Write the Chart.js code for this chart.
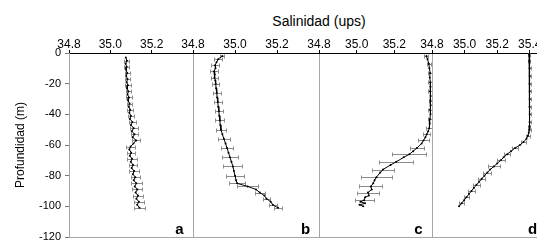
<!DOCTYPE html>
<html>
<head>
<meta charset="utf-8">
<script src="https://cdn.jsdelivr.net/npm/chart.js@4.4.0/dist/chart.umd.min.js"></script>
<style>
    html, body { margin: 0; padding: 0; background: #fff; overflow: hidden; width: 537px; height: 242px; }
    canvas { position: absolute; left: 0; top: 0; }
    #titulo { position: absolute; left: 219px; width: 200px; top: 13px; text-align: center;
              font: 14px "Liberation Sans", Arial, sans-serif; color: #000; }
</style>
</head>
<body>
<div id="titulo">Salinidad (ups)</div>
<canvas id="panelA" width="560" height="260"></canvas>
<canvas id="panelB" width="560" height="260"></canvas>
<canvas id="panelC" width="560" height="260"></canvas>
<canvas id="panelD" width="560" height="260"></canvas>
<script>
// datos: profundidad (m), salinidad (ups), error (ups)
const depthA = [-3,-5,-7,-9,-11,-13,-15,-17,-19,-21,-23,-25,-27,-29,-31,-33,-35,-37,-39,-41,-43,-45,-47,-49,-51,-53,-55,-57,-59,-61,-63,-65,-67,-69,-71,-73,-75,-77,-79,-81,-83,-85,-87,-89,-91,-93,-95,-97,-99,-101];
const salA = [35.075,35.080,35.074,35.079,35.076,35.082,35.077,35.083,35.079,35.085,35.081,35.087,35.083,35.090,35.086,35.093,35.089,35.096,35.092,35.099,35.095,35.107,35.100,35.113,35.104,35.117,35.108,35.125,35.112,35.098,35.092,35.101,35.094,35.105,35.099,35.110,35.103,35.115,35.109,35.121,35.113,35.126,35.118,35.131,35.122,35.134,35.126,35.138,35.130,35.141];
const errA = [0,0.012,0,0.012,0,0.013,0,0.012,0,0.014,0,0.013,0,0.015,0,0.014,0,0.016,0,0.015,0,0.018,0,0.02,0,0.018,0,0.02,0,0.022,0,0.02,0,0.022,0,0.02,0,0.024,0,0.022,0,0.025,0,0.024,0,0.026,0,0.024,0,0.025];

const depthB = [-2,-4,-6,-8,-10,-12,-14,-16,-18,-20,-23,-26,-29,-32,-35,-38,-41,-44,-47,-50,-53,-56,-59,-62,-65,-68,-71,-74,-77,-80,-83,-85,-87,-89,-91,-93,-95,-97,-99,-101];
const salB = [34.94,34.92,34.912,34.905,34.907,34.900,34.904,34.902,34.906,34.908,34.910,34.913,34.915,34.918,34.920,34.923,34.925,34.928,34.930,34.933,34.940,34.947,34.955,34.962,34.969,34.976,34.983,34.990,34.995,35.000,35.005,35.010,35.060,35.100,35.118,35.140,35.150,35.170,35.180,35.205];
const errB = [0.01,0.02,0,0.02,0,0.02,0,0.018,0,0.018,0,0.018,0,0.02,0,0.02,0,0.022,0,0.025,0,0.03,0,0.03,0,0.04,0,0.045,0,0.043,0,0.04,0.05,0,0.024,0,0.018,0,0.02,0.02];

const depthC = [-2,-4,-7,-10,-13,-16,-19,-22,-25,-28,-31,-34,-37,-40,-43,-46,-49,-51,-53,-55,-57,-59,-62,-64,-66,-68,-71,-73,-76,-78,-81,-83,-85,-87,-89,-91,-93,-94,-96,-97,-98,-99,-100];
const salC = [35.37,35.376,35.383,35.386,35.39,35.388,35.391,35.392,35.39,35.393,35.392,35.393,35.39,35.392,35.389,35.388,35.385,35.38,35.372,35.365,35.355,35.345,35.32,35.30,35.28,35.25,35.21,35.18,35.14,35.125,35.105,35.095,35.088,35.075,35.08,35.06,35.065,35.045,35.04,35.02,35.045,35.015,35.035];
const errC = [0.01,0,0.01,0,0.01,0,0.01,0,0.01,0,0.01,0,0.012,0,0.012,0,0.015,0,0.02,0,0.03,0,0.035,0,0.09,0,0.09,0,0.06,0,0.08,0,0,0.06,0,0.06,0,0,0.05,0,0,0,0];

const depthD = [-1,-5,-10,-15,-20,-25,-30,-35,-40,-45,-48,-50,-52,-54,-56,-58,-60,-62,-64,-66,-68,-70,-72,-74,-76,-78,-80,-82,-84,-86,-88,-90,-92,-94,-96,-98,-100];
const salD = [35.396,35.398,35.399,35.4,35.399,35.4,35.4,35.399,35.4,35.399,35.398,35.397,35.394,35.389,35.38,35.362,35.34,35.31,35.285,35.262,35.24,35.222,35.2,35.18,35.157,35.14,35.122,35.105,35.09,35.073,35.057,35.042,35.027,35.012,34.997,34.982,34.966];
const errD = [0.005,0.006,0.006,0.006,0.006,0.006,0.006,0.006,0.006,0.006,0.006,0.008,0,0.012,0,0.015,0,0.02,0,0.02,0,0.025,0,0.035,0,0.025,0,0.02,0,0.02,0,0.02,0,0.018,0,0.015,0];

// etiquetas de los ejes
const xTicks = [34.8, 35.0, 35.2];
const xTicksLast = [34.8, 35.0, 35.2, 35.4];
const yTicks = [0, -20, -40, -60, -80, -100, -120];

const fuente = '"Liberation Sans", Arial, sans-serif';
const canvasW = 560;
const canvasH = 260;
const plotBottom = 237;

// marco gris, barras de error y letra del panel
const panelPlugin = {
    id: 'panel',
    beforeDraw(chart) {
        const a = chart.chartArea;
        const ctx = chart.ctx;
        ctx.save();
        ctx.strokeStyle = '#a6a6a6';
        ctx.lineWidth = 1;
        ctx.strokeRect(Math.round(a.left) + 0.5, Math.round(a.top) + 0.5,
                       Math.round(a.right - a.left), Math.round(a.bottom - a.top));
        ctx.restore();
    },
    beforeDatasetsDraw(chart) {
        const opts = chart.options.plugins.panel;
        const x = chart.scales.x, y = chart.scales.y;
        const ctx = chart.ctx;
        ctx.save();
        ctx.strokeStyle = '#8c8c8c';
        ctx.lineWidth = 1;
        ctx.beginPath();
        opts.sal.forEach((s, i) => {
            const e = opts.err[i];
            if (!e) return;
            const py = Math.round(y.getPixelForValue(opts.depth[i])) + 0.5;
            const x1 = Math.round(x.getPixelForValue(s - e)) + 0.5;
            const x2 = Math.round(x.getPixelForValue(s + e)) + 0.5;
            ctx.moveTo(x1, py); ctx.lineTo(x2, py);
            ctx.moveTo(x1, py - 2); ctx.lineTo(x1, py + 2);
            ctx.moveTo(x2, py - 2); ctx.lineTo(x2, py + 2);
        });
        ctx.stroke();
        ctx.restore();
    },
    afterDraw(chart) {
        const opts = chart.options.plugins.panel;
        const a = chart.chartArea;
        const ctx = chart.ctx;
        ctx.save();
        ctx.font = 'bold 15px ' + fuente;
        ctx.fillStyle = '#000';
        ctx.textAlign = 'center';
        ctx.textBaseline = 'alphabetic';
        ctx.fillText(opts.letra, a.right - 13.5, a.bottom - 3);
        ctx.restore();
    }
};

function crearPanel(id, depth, sal, err, letra, left, right, maxX, ticks, conEjeY) {
    const ctx = document.getElementById(id).getContext('2d');
    return new Chart(ctx, {
        type: 'scatter',
        data: {
            datasets: [{
                data: sal.map((s, i) => ({ x: s, y: depth[i] })),
                showLine: true,
                borderColor: '#000',
                borderWidth: 1,
                backgroundColor: '#000',
                pointRadius: 1,
                pointBorderWidth: 0,
                tension: 0
            }]
        },
        options: {
            responsive: false,
            animation: false,
            events: [],
            layout: { padding: { left: conEjeY ? 0 : left, right: canvasW - right, top: 0, bottom: canvasH - plotBottom } },
            plugins: {
                legend: { display: false },
                tooltip: { enabled: false },
                panel: { depth: depth, sal: sal, err: err, letra: letra }
            },
            scales: {
                x: {
                    type: 'linear',
                    position: 'top',
                    min: 34.8,
                    max: maxX,
                    afterFit: s => { s.height = 53; },
                    afterBuildTicks: s => { s.ticks = ticks.map(v => ({ value: v })); },
                    ticks: {
                        callback: v => v.toFixed(1),
                        font: { size: 12, family: fuente },
                        color: '#000',
                        padding: -2,
                        maxRotation: 0,
                        autoSkip: false
                    },
                    grid: { drawOnChartArea: false, tickLength: 3, color: '#000' },
                    border: { color: '#000' }
                },
                y: {
                    display: conEjeY,
                    type: 'linear',
                    min: -120,
                    max: 0,
                    afterFit: s => { s.width = conEjeY ? left : 0; },
                    afterBuildTicks: s => { s.ticks = yTicks.map(v => ({ value: v })); },
                    ticks: {
                        font: { size: 11, family: fuente },
                        color: '#000',
                        padding: 4
                    },
                    grid: { drawOnChartArea: false, tickLength: 4, color: '#777' },
                    border: { color: '#a6a6a6' },
                    title: {
                        display: true,
                        text: 'Profundidad (m)',
                        font: { size: 12, family: fuente },
                        color: '#000',
                        padding: { top: 13, bottom: 0 }
                    }
                }
            }
        },
        plugins: [panelPlugin]
    });
}

const chartA = crearPanel('panelA', depthA, salA, errA, 'a', 69, 193, 35.4, xTicks, true);
const chartB = crearPanel('panelB', depthB, salB, errB, 'b', 193, 319, 35.4, xTicks, false);
const chartC = crearPanel('panelC', depthC, salC, errC, 'c', 319, 432, 35.4, xTicks, false);
const chartD = crearPanel('panelD', depthD, salD, errD, 'd', 432, 546, 35.5, xTicksLast, false);
</script>
</body>
</html>
